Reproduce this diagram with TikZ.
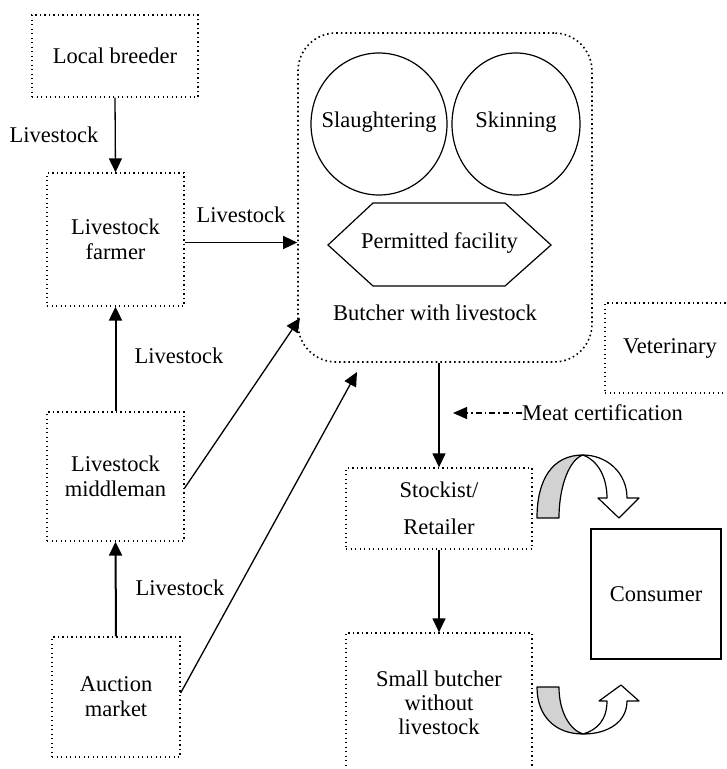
\documentclass[tikz,border=0pt]{standalone}
\usepackage{fontspec}
\setmainfont{Liberation Serif}
\newfontfamily\diagfont{Liberation Serif}
\usetikzlibrary{arrows.meta,shapes.geometric}
\begin{document}
\begin{tikzpicture}[x=1pt,y=-1pt,
  font=\diagfont\fontsize{22.5}{25}\selectfont,
  dotbox/.style={draw, line width=1.3pt, dash pattern=on 1.3pt off 3.2pt, align=center, inner sep=0pt},
  bbox/.style={draw, line width=1.6pt, dash pattern=on 1.6pt off 3pt, rounded corners=38pt, inner sep=0pt},
  circ/.style={draw, ellipse, line width=1.2pt, inner sep=0pt},
  arr/.style={line width=1.3pt, -{Triangle[length=14pt,width=13pt]}},
  lbl/.style={inner sep=0pt},
  ribbon/.style={line width=1.2pt, line join=round},
]
\useasboundingbox (0,0) rectangle (727,769);

% left column
\node[dotbox, minimum width=166pt, minimum height=82pt] (breeder) at (115,56) {Local breeder};
\node[dotbox, minimum width=137pt, minimum height=133pt] (farmer) at (115.5,239.5) {Livestock\\farmer};
\node[dotbox, minimum width=137pt, minimum height=129pt] (middle) at (115.5,476.5) {Livestock\\middleman};
\node[dotbox, minimum width=128pt, minimum height=120pt] (auction) at (116,697) {Auction\\market};

% butcher with livestock
\node[bbox, minimum width=294pt, minimum height=329pt] (butcher) at (445,197.5) {};
\node[circ, minimum width=136pt, minimum height=142pt] (slaughter) at (379,124) {};
\node[circ, minimum width=128pt, minimum height=142pt] (skin) at (516,124) {};
\node[lbl] (slaughtert) at (379,122) {Slaughtering};
\node[lbl] (skint) at (516,122) {Skinning};
\draw[line width=1.2pt, line join=miter] (328,245) -- (373,203) -- (505,203) -- (551,245) -- (505,286) -- (373,286) -- cycle;
\node[lbl] (perm) at (439.5,243) {Permitted facility};
\node[lbl] (bwl) at (435,313) {Butcher with livestock};

% right side
\node[dotbox, minimum width=130pt, minimum height=90pt] (vet) at (670,348) {Veterinary};
\node[dotbox, minimum width=186pt, minimum height=81pt] (stock) at (439,508.5) {Stockist/\\[12pt]Retailer};
\node[dotbox, minimum width=186pt, minimum height=140pt] (small) at (439,703) {Small butcher\\[-1pt]without\\[-1pt]livestock};
\node[draw, line width=1.4pt, minimum width=130pt, minimum height=130pt, inner sep=0pt] (consumer) at (656,594) {Consumer};

% labels
\node[lbl] (l1) at (54,135) {Livestock};
\node[lbl] (l2) at (241,215) {Livestock};
\node[lbl] (l3) at (179,356) {Livestock};
\node[lbl] (l4) at (180,588) {Livestock};
\node[lbl, anchor=west] (meat) at (522,413) {Meat certification};

% free ends
\coordinate (m2b) at (300,318);
\coordinate (a2b) at (357,372);
\coordinate (certtip) at (453,413);

% connectors
\draw[arr] (breeder.south) -- (farmer.north);
\draw[arr] ([yshift=-3pt]farmer.east) -- ([yshift=-3pt]farmer.east -| butcher.west);
\draw[arr, line width=2pt] (middle.north) -- (farmer.south);
\draw[arr, line width=2pt] (auction.north) -- (middle.south);
\draw[arr] ([yshift=-11.5pt]middle.east) -- (m2b);
\draw[arr] ([yshift=4pt]auction.east) -- (a2b);
\draw[arr] (stock.north |- butcher.south) -- (stock.north);
\draw[arr] (stock.south) -- (small.north);
\draw[line width=1.2pt, dash pattern=on 6pt off 3pt on 1.5pt off 3pt, -{Triangle[length=14pt,width=12pt]}] (meat.west) -- (certtip);

% curved arrows (top)
\draw[ribbon, fill=gray!35] (537,518) .. controls (537,480) and (552,455) .. (583,455) .. controls (570,459) and (559,485) .. (559,518) -- cycle;
\draw[ribbon, fill=white] (583,455) .. controls (606,455) and (627,472) .. (627,498) -- (639,498) -- (619,518) -- (598,498) -- (607,498) .. controls (607,476) and (597,460) .. (583,455) -- cycle;

% curved arrows (bottom)
\draw[ribbon, fill=gray!35] (537,687) .. controls (537,716) and (555,734) .. (583,734) .. controls (570,730) and (559,712) .. (559,687) -- cycle;
\draw[ribbon, fill=white] (583,734) .. controls (608,734) and (627,722) .. (627,701) -- (639,701) -- (621,685) -- (599,701) -- (607,701) .. controls (607,720) and (597,730) .. (583,734) -- cycle;
\end{tikzpicture}
\end{document}
